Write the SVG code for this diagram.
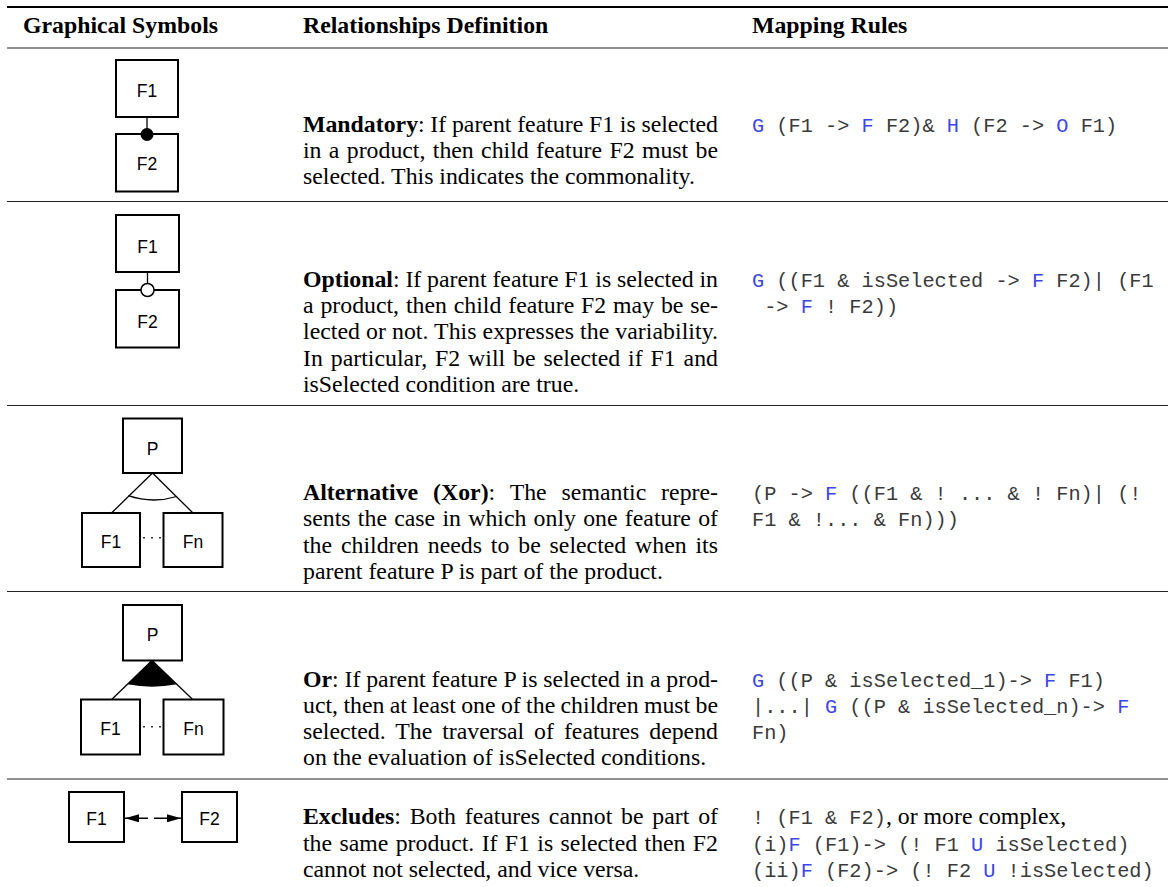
<svg xmlns="http://www.w3.org/2000/svg" width="1168" height="887" viewBox="0 0 1168 887">
<style>
.hd{font-family:"Liberation Serif",serif;font-weight:bold;font-size:23.8px;fill:#000}
.tx{font-family:"Liberation Serif",serif;font-size:23.8px;fill:#000}
.b{font-weight:bold}
.mo{font-family:"Liberation Mono",monospace;font-size:20.3px;fill:#3a3a3a}
.bl{fill:#3c46e6}
.box{fill:#fff;stroke:#000;stroke-width:2}
.ln{stroke:#000;stroke-width:1.3;fill:none}
.dots{stroke:#000;stroke-width:1.6;stroke-dasharray:1.6 6.4}
.lb{font-family:"Liberation Sans",Arial,sans-serif;font-size:17.5px;text-anchor:middle;fill:#000}
.rule{stroke:#222;stroke-width:1.2}
</style>
<defs>
<marker id="ah" viewBox="0 0 14 8" refX="14" refY="4" markerWidth="14" markerHeight="8" markerUnits="userSpaceOnUse" orient="auto-start-reverse">
<path d="M0,0 L14,4 L0,8 z" fill="#000"/>
</marker>
</defs>
<rect width="1168" height="887" fill="#fff"/>
<g id="rules">
<line x1="7" y1="7" x2="1168" y2="7" stroke="#000" stroke-width="2"/>
<line x1="7" y1="48" x2="1168" y2="48" class="rule"/>
<line x1="7" y1="201.5" x2="1168" y2="201.5" class="rule"/>
<line x1="7" y1="405.5" x2="1168" y2="405.5" class="rule"/>
<line x1="7" y1="591.5" x2="1168" y2="591.5" class="rule"/>
<line x1="7" y1="779" x2="1168" y2="779" class="rule"/>
</g>
<g id="header">
<text class="hd" x="23" y="33">Graphical Symbols</text>
<text class="hd" x="303" y="33">Relationships Definition</text>
<text class="hd" x="752" y="33">Mapping Rules</text>
</g>
<g id="connectors">
<line class="ln" x1="147" y1="117" x2="147" y2="134"/>
<line class="ln" x1="147.5" y1="272" x2="147.5" y2="284"/>
<line class="ln" x1="152.5" y1="473" x2="111.5" y2="513"/>
<line class="ln" x1="152.5" y1="473" x2="193" y2="513"/>
<path class="ln" d="M128.3,495.7 Q152.5,503.9 176.7,496.5"/>
<line class="dots" x1="143.2" y1="537.7" x2="162" y2="537.7"/>
<line class="ln" x1="152" y1="660.5" x2="111.7" y2="699.5"/>
<line class="ln" x1="152" y1="660.5" x2="192.7" y2="699.5"/>
<path d="M152,660.5 L127.4,684.3 Q152,689.2 176.8,684.3 Z" fill="#000"/>
<line class="dots" x1="143.2" y1="726.7" x2="162" y2="726.7"/>
<line x1="125" y1="818.3" x2="181" y2="818.3" stroke="#000" stroke-width="1.6" stroke-dasharray="23 6 30" marker-start="url(#ah)" marker-end="url(#ah)"/>
</g>
<g id="mandatory">
<rect class="box" x="116" y="60" width="62" height="57"/>
<text class="lb" x="147" y="97">F1</text>
<rect class="box" x="116" y="134" width="62" height="57.5"/>
<text class="lb" x="147" y="170">F2</text>
<circle cx="147" cy="134.5" r="6.5" fill="#000"/>
<text class="tx" x="303" y="131.7" word-spacing="-0.23" textLength="415" lengthAdjust="spacing"><tspan class="b">Mandatory</tspan>: If parent feature F1 is selected</text>
<text class="tx" x="303" y="158" word-spacing="1.39" textLength="415" lengthAdjust="spacing">in a product, then child feature F2 must be</text>
<text class="tx" x="303" y="184.3">selected. This indicates the commonality.</text>
<text class="mo" x="752" y="131.7"><tspan class="bl">G</tspan> (F1 -&gt; <tspan class="bl">F</tspan> F2)&amp; <tspan class="bl">H</tspan> (F2 -&gt; <tspan class="bl">O</tspan> F1)</text>
</g>
<g id="optional">
<rect class="box" x="116" y="215" width="63" height="57"/>
<text class="lb" x="147.5" y="253">F1</text>
<rect class="box" x="116" y="290" width="63" height="57.5"/>
<text class="lb" x="147.5" y="328">F2</text>
<circle cx="147.5" cy="290" r="6.5" fill="#fff" stroke="#000" stroke-width="1.5"/>
<text class="tx" x="303" y="286.7" word-spacing="-0.11" textLength="415" lengthAdjust="spacing"><tspan class="b">Optional</tspan>: If parent feature F1 is selected in</text>
<text class="tx" x="303" y="313" word-spacing="0.9" textLength="415" lengthAdjust="spacing">a product, then child feature F2 may be se-</text>
<text class="tx" x="303" y="339.3" textLength="415" lengthAdjust="spacing">lected or not. This expresses the variability.</text>
<text class="tx" x="303" y="365.6" word-spacing="1.89" textLength="415" lengthAdjust="spacing">In particular, F2 will be selected if F1 and</text>
<text class="tx" x="303" y="391.9">isSelected condition are true.</text>
<text class="mo" x="752" y="286.7"><tspan class="bl">G</tspan> ((F1 &amp; isSelected -&gt; <tspan class="bl">F</tspan> F2)| (F1</text>
<text class="mo" x="752" y="313" xml:space="preserve"> -&gt; <tspan class="bl">F</tspan> ! F2))</text>
</g>
<g id="alternative">
<rect class="box" x="123" y="418.5" width="59" height="54.5"/>
<text class="lb" x="152.5" y="455">P</text>
<rect class="box" x="82" y="513" width="58" height="54"/>
<text class="lb" x="111" y="548.3">F1</text>
<rect class="box" x="163.5" y="513" width="59" height="54"/>
<text class="lb" x="193" y="548.3">Fn</text>
<text class="tx" x="303" y="500" word-spacing="8.9" textLength="415" lengthAdjust="spacing"><tspan class="b">Alternative (Xor)</tspan>: The semantic repre-</text>
<text class="tx" x="303" y="526.3" word-spacing="1.31" textLength="415" lengthAdjust="spacing">sents the case in which only one feature of</text>
<text class="tx" x="303" y="552.6" word-spacing="2.91" textLength="415" lengthAdjust="spacing">the children needs to be selected when its</text>
<text class="tx" x="303" y="578.9">parent feature P is part of the product.</text>
<text class="mo" x="752" y="500">(P -&gt; <tspan class="bl">F</tspan> ((F1 &amp; ! ... &amp; ! Fn)| (!</text>
<text class="mo" x="752" y="526.3">F1 &amp; !... &amp; Fn)))</text>
</g>
<g id="or">
<rect class="box" x="123" y="605" width="59" height="55.5"/>
<text class="lb" x="152.5" y="640.5">P</text>
<rect class="box" x="81" y="699.5" width="59" height="55"/>
<text class="lb" x="110.5" y="735">F1</text>
<rect class="box" x="163.5" y="699.5" width="60" height="55"/>
<text class="lb" x="193.5" y="735">Fn</text>
<text class="tx" x="303" y="686.5" word-spacing="-0.22" textLength="415" lengthAdjust="spacing"><tspan class="b">Or</tspan>: If parent feature P is selected in a prod-</text>
<text class="tx" x="303" y="712.8" word-spacing="-0.6" textLength="415" lengthAdjust="spacing">uct, then at least one of the children must be</text>
<text class="tx" x="303" y="739.1" word-spacing="3.96" textLength="415" lengthAdjust="spacing">selected. The traversal of features depend</text>
<text class="tx" x="303" y="765.4">on the evaluation of isSelected conditions.</text>
<text class="mo" x="752" y="686.5"><tspan class="bl">G</tspan> ((P &amp; isSelected_1)-&gt; <tspan class="bl">F</tspan> F1)</text>
<text class="mo" x="752" y="712.8">|...| <tspan class="bl">G</tspan> ((P &amp; isSelected_n)-&gt; <tspan class="bl">F</tspan></text>
<text class="mo" x="752" y="739.1">Fn)</text>
</g>
<g id="excludes">
<rect class="box" x="69" y="792" width="55" height="50"/>
<text class="lb" x="96.5" y="825">F1</text>
<rect class="box" x="182" y="792" width="55" height="50"/>
<text class="lb" x="209.5" y="825">F2</text>
<text class="tx" x="303" y="824" word-spacing="2.85" textLength="415" lengthAdjust="spacing"><tspan class="b">Excludes</tspan>: Both features cannot be part of</text>
<text class="tx" x="303" y="850.5" word-spacing="1.39" textLength="415" lengthAdjust="spacing">the same product. If F1 is selected then F2</text>
<text class="tx" x="303" y="877">cannot not selected, and vice versa.</text>
<text x="752" y="824"><tspan class="mo">! (F1 &amp; F2)</tspan><tspan class="tx">, or more complex,</tspan></text>
<text class="mo" x="752" y="850.5">(i)<tspan class="bl">F</tspan> (F1)-&gt; (! F1 <tspan class="bl">U</tspan> isSelected)</text>
<text class="mo" x="752" y="877">(ii)<tspan class="bl">F</tspan> (F2)-&gt; (! F2 <tspan class="bl">U</tspan> !isSelected)</text>
</g>
</svg>
